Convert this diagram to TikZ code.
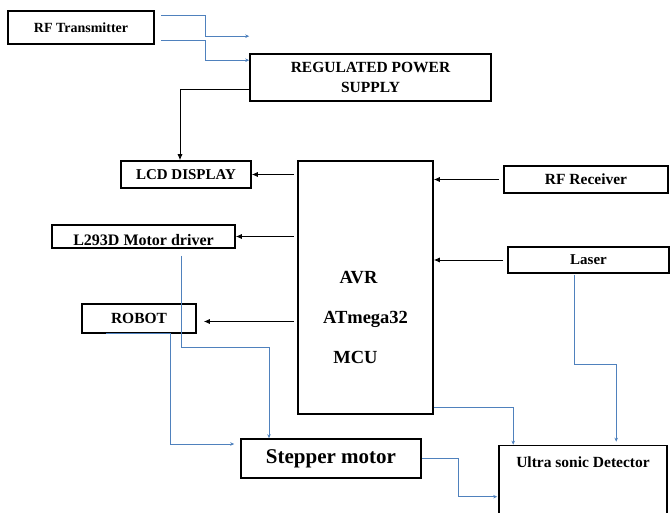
\documentclass[tikz,border=0pt]{standalone}
\usepackage{fontspec}
\setmainfont{Liberation Serif}
\usetikzlibrary{arrows.meta,calc}
\definecolor{lineblue}{RGB}{79,129,189}
\tikzset{
  blk/.style={draw, line width=1.6pt, inner sep=0pt, align=center, font=\bfseries\fontsize{15}{20}\selectfont},
  toblk/.style={-{Latex[length=6pt,width=5pt]}, line width=0.8pt},
  toblu/.style={-{Stealth[length=4pt,width=3.5pt]}, draw=lineblue, line width=0.8pt},
}
\begin{document}
\begin{tikzpicture}[x=1pt,y=-1pt]
	\useasboundingbox (0,0) rectangle (670,513);
	
	\node[blk, minimum width=146pt, minimum height=33pt, font=\bfseries\fontsize{14}{16}\selectfont] (tx) at (81,27.5) {RF Transmitter};
	\node[blk, minimum width=241pt, minimum height=47pt, font=\bfseries\fontsize{15.5}{20}\selectfont] (rps) at (370.5,77.5) {REGULATED POWER\\SUPPLY};
	\node[blk, minimum width=130pt, minimum height=27pt] (lcd) at (186,174.5) {LCD DISPLAY};
	\node[blk, minimum width=183pt, text height=19pt, text depth=0pt, inner ysep=2pt, font=\bfseries\fontsize{16}{18}\selectfont] (drv) at (143.5,236.5) {L293D Motor driver};
	\node[blk, minimum width=114pt, minimum height=29pt, font=\bfseries\fontsize{15.5}{18}\selectfont] (robot) at (139,318.5) {ROBOT};
	\node[blk, minimum width=135pt, minimum height=253pt] (mcu) at (365.5,287.5) {};
	\node[align=center, font=\bfseries\fontsize{18.5}{40}\selectfont] (mcutxt) at (365.5,317) {AVR\hspace*{14pt}\\ATmega32\\MCU\hspace*{20pt}};
	\node[blk, minimum width=164pt, minimum height=27pt, font=\bfseries\fontsize{15.5}{18}\selectfont] (rx) at (586,179.5) {RF Receiver};
	\node[blk, minimum width=161pt, minimum height=26pt] (laser) at (588.5,260) {Laser};
	\node[blk, minimum width=180pt, minimum height=39pt, font=\bfseries\fontsize{21}{24}\selectfont] (step) at (331,458.5) {Stepper motor};
	\node[blk, minimum width=168pt, text height=22pt, text depth=50pt, font=\bfseries\fontsize{15.5}{18}\selectfont] (us) at (583,481.5) {Ultra sonic Detector};
	
	% transmitter and supply
	\coordinate (txfree) at ($(rps.north west)+(0,-17)$);
	\draw[toblu] ($(tx.north east)+(6,5)$) -- ++(45,0) |- (txfree);
	\draw[toblu] ($(tx.south east)+(6,-4)$) -- ++(45,0) |- ($(rps.north west)+(0,7)$);
	\draw[toblk] ($(rps.south west)+(0,-12)$) -| ($(lcd.north)+(-6,0)$);
	
	% MCU in and out
	\draw[toblk] ($(mcu.west |- lcd.east)+(-3,0)$) -- (lcd.east);
	\draw[toblk] ($(mcu.west |- drv.east)+(-3,0)$) -- (drv.east);
	\draw[toblk, shorten >=7pt] ($(mcu.west |- robot.east)+(-3,3)$) -- ($(robot.east)+(0,3)$);
	\draw[toblk] ($(rx.west)+(-4,0)$) -- (mcu.east |- rx.west);
	\draw[toblk] ($(laser.west)+(-4,0)$) -- (mcu.east |- laser.west);
	
	% stepper motor
	\draw[toblu] ($(drv.south)+(38,7)$) -- ++(0,92) -| ($(step.north)+(-62,0)$);
	\draw[toblu] ($(robot.south west)+(25,0)$) -- ($(robot.south west)+(89,0)$) |- ($(step.west)+(-6,-14.5)$);
	
	% ultra sonic detector
	\draw[toblu] ($(mcu.south east)+(0,-7)$) -| ($(us.north west)+(15,0)$);
	\draw[toblu] ($(laser.south)+(-14.5,1)$) -- ++(0,90) -| ($(us.north west)+(118,-3)$);
	\draw[toblu] (step.east) -- ++(37,0) |- ($(us.north west)+(-1,52)$);
\end{tikzpicture}
\end{document}
